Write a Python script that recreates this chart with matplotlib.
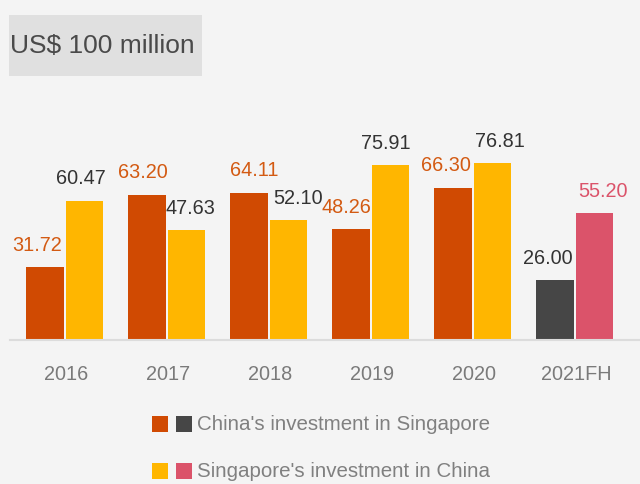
import numpy as np
import matplotlib.pyplot as plt
from matplotlib.patches import Rectangle

plt.rcParams['font.family'] = ['Liberation Sans', 'DejaVu Sans']

years = ['2016', '2017', '2018', '2019', '2020', '2021FH']
china_in_sg = [31.72, 63.20, 64.11, 48.26, 66.30, 26.00]
sg_in_china = [60.47, 47.63, 52.10, 75.91, 76.81, 55.20]

ORANGE = '#d04a02'
YELLOW = '#ffb600'
DARK = '#464646'
PINK = '#db536a'
BG = '#f4f4f4'

china_colors = [ORANGE] * 5 + [DARK]
sg_colors = [YELLOW] * 5 + [PINK]
china_text = ['#d35a12'] * 5 + ['#333333']
sg_text = ['#333333'] * 5 + [PINK]

# small horizontal nudges for the value labels (pixels)
china_dx = [-8, -4, 5, -5, -7, -7]
sg_dx = [-4, 3, 9, -5, 7, 8]

W, H = 640, 485
fig = plt.figure(figsize=(W / 100, H / 100), dpi=100, facecolor=BG)
ax = fig.add_axes([10 / W, (H - 341) / H, 630 / W, 230 / H])
ax.set_facecolor(BG)

x = np.arange(len(years))
bw = 0.363
off = 0.196
b1 = ax.bar(x - off - 0.01, china_in_sg, bw, color=china_colors)
b2 = ax.bar(x + off - 0.01, sg_in_china, bw, color=sg_colors)

for bars, vals, cols, dxs in [(b1, china_in_sg, china_text, china_dx),
                              (b2, sg_in_china, sg_text, sg_dx)]:
    for bar, v, c, dx in zip(bars, vals, cols, dxs):
        ax.annotate(f'{v:.2f}', (bar.get_x() + bar.get_width() / 2, v),
                    xytext=(dx, 23), textcoords='offset pixels',
                    ha='center', va='center', fontsize=14.3, color=c,
                    annotation_clip=False)

ax.set_xlim((10 - 66) / 102, (640 - 66) / 102)
ax.set_ylim(0, 100)
for s in ['top', 'left', 'right']:
    ax.spines[s].set_visible(False)
ax.spines['bottom'].set_color('#dcdcdc')
ax.spines['bottom'].set_linewidth(1.5)
ax.set_yticks([])
ax.set_xticks(x)
ax.set_xticklabels(years, fontsize=14.3, color='#7a7a7a')
ax.tick_params(axis='x', length=0, pad=17)

# unit box in the top-left corner
fig.patches.append(Rectangle((9 / W, 1 - 77 / H), 193 / W, 61 / H,
                             transform=fig.transFigure, facecolor='#e0e0e0',
                             edgecolor='none', zorder=0))
fig.text(10 / W, 1 - 46 / H, 'US$ 100 million', fontsize=19,
         color='#4a4a4a', va='center', ha='left')

# legend drawn by hand: two swatches per row
rows = [("China's investment in Singapore", ORANGE, DARK, 425),
        ("Singapore's investment in China", YELLOW, PINK, 472)]
for label, c1, c2, yc in rows:
    for xs, c in [(152, c1), (176, c2)]:
        fig.patches.append(Rectangle((xs / W, 1 - (yc + 8) / H), 16 / W, 16 / H,
                                     transform=fig.transFigure, facecolor=c,
                                     edgecolor='none'))
    fig.text(197 / W, 1 - yc / H, label, fontsize=14.8, color='#808080',
             va='center', ha='left')

fig.savefig('out.png', dpi=100, facecolor=BG)
